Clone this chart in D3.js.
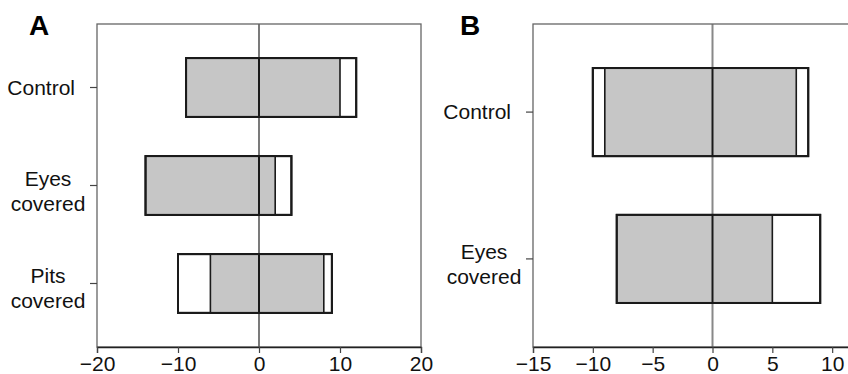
<!DOCTYPE html>
<html>
<head>
<meta charset="utf-8">
<script src="https://cdn.jsdelivr.net/npm/d3@7"></script>
<style>
  body { margin: 0; background: #fff; }
  svg { display: block; font-family: "Liberation Sans", Arial, sans-serif; }
</style>
</head>
<body>
<div id="chart"></div>
<script>
// Panel A data
var catsA = ["Control", "Eyes\ncovered", "Pits\ncovered"];
var outerLoA = [-9, -14, -10];
var outerHiA = [12, 4, 9];
var innerLoA = [-9, -14, -6];
var innerHiA = [10, 2, 8];
var ticksA = [-20, -10, 0, 10, 20];

// Panel B data
var catsB = ["Control", "Eyes\ncovered"];
var outerLoB = [-10, -8];
var outerHiB = [8, 9];
var innerLoB = [-9, -8];
var innerHiB = [7, 5];
var ticksB = [-15, -10, -5, 0, 5, 10, 15];

var width = 848, height = 374;
var plotTop = 24, plotBottom = 347;

var svg = d3.select("#chart").append("svg")
  .attr("width", width)
  .attr("height", height);

function panel(opts) {
  var x = d3.scaleLinear().domain(opts.domain).range([opts.left, opts.right]);
  var y = d3.scalePoint().domain(opts.cats).range([plotTop, plotBottom]).padding(opts.pad);
  var bh = y.step() * 0.6;
  var g = svg.append("g");

  // zero line
  g.append("line")
    .attr("x1", x(0)).attr("x2", x(0))
    .attr("y1", plotTop).attr("y2", plotBottom)
    .attr("stroke", opts.zeroColor)
    .attr("stroke-width", opts.zeroWidth);

  var rows = opts.cats.map(function(c, i) {
    return { cat: c, lo: opts.outerLo[i], hi: opts.outerHi[i], ilo: opts.innerLo[i], ihi: opts.innerHi[i] };
  });

  // outer white boxes
  g.selectAll(".outer").data(rows).enter().append("rect")
    .attr("x", function(d) { return x(d.lo); })
    .attr("y", function(d) { return y(d.cat) - bh / 2; })
    .attr("width", function(d) { return x(d.hi) - x(d.lo); })
    .attr("height", bh)
    .attr("fill", "#fff")
    .attr("stroke", "#1a1a1a")
    .attr("stroke-width", 2);

  // inner grey boxes
  g.selectAll(".inner").data(rows).enter().append("rect")
    .attr("x", function(d) { return x(d.ilo); })
    .attr("y", function(d) { return y(d.cat) - bh / 2; })
    .attr("width", function(d) { return x(d.ihi) - x(d.ilo); })
    .attr("height", bh)
    .attr("fill", "#c6c6c6")
    .attr("stroke", "#1a1a1a")
    .attr("stroke-width", 1.6);

  // redraw the outer border so it sits on top
  g.selectAll(".outer2").data(rows).enter().append("rect")
    .attr("x", function(d) { return x(d.lo); })
    .attr("y", function(d) { return y(d.cat) - bh / 2; })
    .attr("width", function(d) { return x(d.hi) - x(d.lo); })
    .attr("height", bh)
    .attr("fill", "none")
    .attr("stroke", "#1a1a1a")
    .attr("stroke-width", 2);

  // zero line within bars
  g.selectAll(".mid").data(rows).enter().append("line")
    .attr("x1", x(0)).attr("x2", x(0))
    .attr("y1", function(d) { return y(d.cat) - bh / 2; })
    .attr("y2", function(d) { return y(d.cat) + bh / 2; })
    .attr("stroke", "#1a1a1a")
    .attr("stroke-width", 2);

  // frame
  g.append("rect")
    .attr("x", opts.left).attr("y", plotTop)
    .attr("width", opts.right - opts.left).attr("height", plotBottom - plotTop)
    .attr("fill", "none")
    .attr("stroke", "#666")
    .attr("stroke-width", 1.3);

  // bottom axis
  var ax = g.append("g")
    .attr("transform", "translate(0," + plotBottom + ")")
    .call(d3.axisBottom(x).tickValues(opts.ticks).tickSize(6).tickPadding(3).tickFormat(d3.format("d")));
  ax.attr("font-size", null).attr("font-family", null);
  ax.select(".domain").attr("stroke", "#222").attr("stroke-width", 1.3);
  ax.selectAll(".tick line").attr("stroke", "#444").attr("stroke-width", 1.2);
  ax.selectAll("text").style("font-size", "21px").attr("fill", "#111");

  // left ticks
  g.selectAll(".ytick").data(opts.cats).enter().append("line")
    .attr("x1", opts.left - 7).attr("x2", opts.left)
    .attr("y1", function(d) { return y(d); })
    .attr("y2", function(d) { return y(d); })
    .attr("stroke", "#444")
    .attr("stroke-width", 1.2);

  // category labels
  opts.cats.forEach(function(c) {
    var lines = c.split("\n");
    var t = g.append("text")
      .style("font-size", "21px")
      .attr("fill", "#111");
    if (lines.length === 1) {
      t.attr("text-anchor", "end")
        .attr("x", opts.left - 22)
        .attr("y", y(c) + 7)
        .text(c);
    } else {
      t.attr("text-anchor", "middle");
      lines.forEach(function(l, i) {
        t.append("tspan")
          .attr("x", opts.left - 49)
          .attr("y", y(c) + i * 25)
          .text(l);
      });
    }
  });

  // panel letter
  g.append("text")
    .attr("x", opts.letterX).attr("y", 35)
    .style("font-size", "28px")
    .attr("font-weight", "bold")
    .attr("fill", "#000")
    .text(opts.letter);
}

panel({
  letter: "A", letterX: 29,
  cats: catsA, outerLo: outerLoA, outerHi: outerHiA, innerLo: innerLoA, innerHi: innerHiA,
  ticks: ticksA, domain: [-20, 20], left: 97, right: 421, pad: 0.648,
  zeroColor: "#222", zeroWidth: 1.2
});

panel({
  letter: "B", letterX: 460,
  cats: catsB, outerLo: outerLoB, outerHi: outerHiB, innerLo: innerLoB, innerHi: innerHiB,
  ticks: ticksB, domain: [-15, 15], left: 533, right: 892, pad: 0.6,
  zeroColor: "#888", zeroWidth: 2
});
</script>
</body>
</html>
